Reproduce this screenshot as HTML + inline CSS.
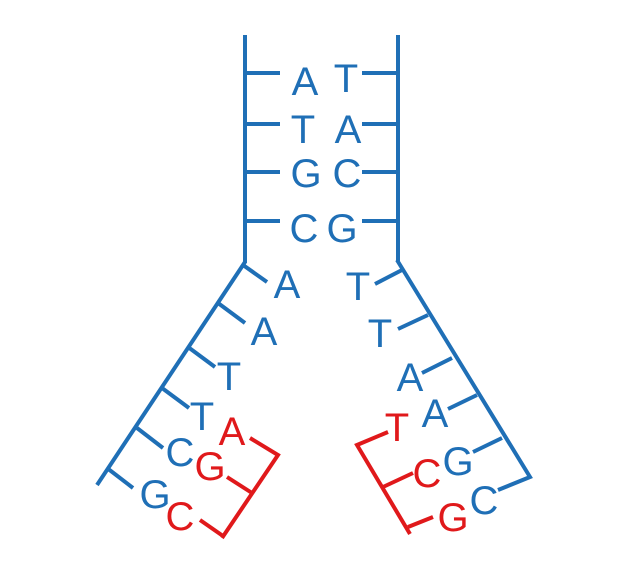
<!DOCTYPE html>
<html><head><style>html,body{margin:0;padding:0;background:#fff;}svg{display:block}</style></head>
<body>
<svg width="630" height="586" viewBox="0 0 630 586" xmlns="http://www.w3.org/2000/svg">
<g stroke="#1f6fb6" stroke-width="4" fill="none" stroke-linecap="butt">
<line x1="245" y1="35" x2="245" y2="263"/>
<line x1="398" y1="35" x2="398" y2="262"/>
<line x1="245" y1="73" x2="280" y2="73"/><line x1="245" y1="124" x2="280" y2="124"/>
<line x1="245" y1="172" x2="280" y2="172"/><line x1="245" y1="221" x2="280" y2="221"/>
<line x1="362" y1="73" x2="398" y2="73"/><line x1="362" y1="124" x2="398" y2="124"/>
<line x1="362" y1="172" x2="398" y2="172"/><line x1="362" y1="221" x2="398" y2="221"/>
<line x1="245" y1="262" x2="97" y2="485"/>
<line x1="243" y1="265" x2="267" y2="282"/><line x1="218" y1="303" x2="245" y2="323"/>
<line x1="188" y1="347" x2="215" y2="367"/><line x1="162" y1="388" x2="189" y2="408"/>
<line x1="137" y1="428" x2="163" y2="448"/><line x1="107" y1="468" x2="133" y2="488"/>
<polyline points="397,260 530,477 498,490"/>
<line x1="402" y1="270" x2="375" y2="284"/><line x1="428" y1="315" x2="398" y2="329"/>
<line x1="452" y1="358" x2="422" y2="373"/><line x1="477" y1="395" x2="448" y2="409"/>
<line x1="502" y1="438" x2="473" y2="452"/>
</g>
<g stroke="#e0191b" stroke-width="4" fill="none">
<polyline points="250,438 278,455 222,538"/>
<line x1="227" y1="477" x2="252" y2="493"/><line x1="200" y1="520" x2="223" y2="536"/>
<polyline points="388,432 357,445 410,534"/>
<line x1="383" y1="487" x2="413" y2="473"/><line x1="408" y1="527" x2="433" y2="517"/>
</g>
<g font-family="Liberation Sans, sans-serif" font-size="40" fill="#1f6fb6" text-anchor="middle">
<text x="305" y="95">A</text><text x="346" y="92">T</text>
<text x="303" y="143">T</text><text x="348" y="143">A</text>
<text x="306" y="187">G</text><text x="347" y="187">C</text>
<text x="304" y="242">C</text><text x="342" y="242">G</text>
<text x="287" y="298">A</text><text x="264" y="345">A</text>
<text x="229" y="390">T</text><text x="202" y="430">T</text>
<text x="180" y="466">C</text><text x="155" y="508">G</text>
<text x="358" y="300">T</text><text x="380" y="347">T</text>
<text x="410" y="391">A</text><text x="435" y="427">A</text>
<text x="458" y="475">G</text><text x="484" y="514">C</text>
</g>
<g font-family="Liberation Sans, sans-serif" font-size="40" fill="#e0191b" text-anchor="middle">
<text x="232" y="445">A</text><text x="210" y="480">G</text><text x="180" y="530">C</text>
<text x="397" y="441">T</text><text x="427" y="487">C</text><text x="453" y="531">G</text>
</g>
</svg>
</body></html>
